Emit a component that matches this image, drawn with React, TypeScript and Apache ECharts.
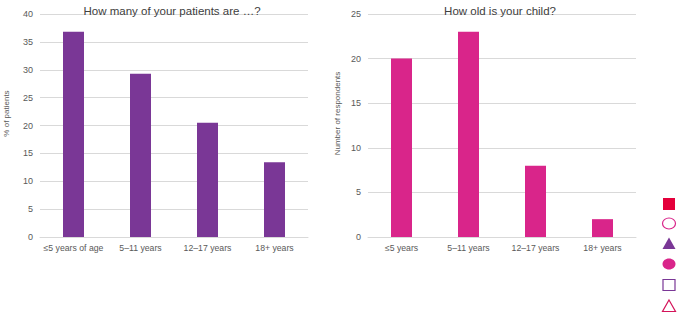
import React, { useEffect, useRef } from "react";
import * as echarts from "echarts";

const leftCategories = ["≤5 years of age", "5–11 years", "12–17 years", "18+ years"];
const leftValues = [36.8, 29.3, 20.5, 13.4];
const rightCategories = ["≤5 years", "5–11 years", "12–17 years", "18+ years"];
const rightValues = [20, 23, 8, 2];
const leftTitle = "How many of your patients are …?";
const rightTitle = "How old is your child?";
const leftAxisName = "% of patients";
const rightAxisName = "Number of respondents";

const FONT = "Liberation Sans, Arial, sans-serif";
const TXT = "#595959";
const GRID = "#d9d9d9";
const PURPLE = "#7a3796";
const PINK = "#d9258a";
const RED = "#e4003b";

export default function App() {
  const ref = useRef<HTMLDivElement>(null);
  useEffect(() => {
    if (!ref.current) return;
    const chart = echarts.init(ref.current, null, { renderer: "svg" });
    const yAxisCommon = {
      type: "value" as const,
      nameLocation: "middle" as const,
      nameRotate: 90,
      nameTextStyle: { color: TXT, fontSize: 8, fontFamily: FONT, padding: [0, 0, 0, 24] },
      axisLabel: { color: TXT, fontSize: 9, fontFamily: FONT, margin: 7 },
      axisLine: { show: false },
      axisTick: { show: false },
      splitLine: { lineStyle: { color: GRID, width: 1 } },
    };
    const xAxisCommon = {
      type: "category" as const,
      axisLabel: { color: TXT, fontSize: 8.7, fontFamily: FONT, margin: 6, interval: 0 },
      axisLine: { lineStyle: { color: GRID, width: 1 } },
      axisTick: { show: false },
    };
    const mx = 669;
    const legendItems: any[] = [
      { type: "rect", shape: { x: mx - 6, y: 198, width: 12, height: 12 }, style: { fill: RED } },
      { type: "ellipse", shape: { cx: mx, cy: 223.5, rx: 6.5, ry: 5.5 }, style: { fill: "#fff", stroke: PINK, lineWidth: 1.2 } },
      { type: "polygon", shape: { points: [[mx, 237.5], [mx + 6.5, 249], [mx - 6.5, 249]] }, style: { fill: PURPLE } },
      { type: "ellipse", shape: { cx: mx, cy: 264, rx: 6.5, ry: 5.5 }, style: { fill: PINK } },
      { type: "rect", shape: { x: mx - 6, y: 279.5, width: 12, height: 11 }, style: { fill: "#fff", stroke: PURPLE, lineWidth: 1.2 } },
      { type: "polygon", shape: { points: [[mx, 300], [mx + 6.5, 311.5], [mx - 6.5, 311.5]] }, style: { fill: "#fff", stroke: "#d4145a", lineWidth: 1.2 } },
    ];
    const titleStyle = { color: "#404040", fontSize: 11.5, fontWeight: "normal" as const, fontFamily: FONT };
    chart.setOption({
      animation: false,
      backgroundColor: "#ffffff",
      title: [
        { text: leftTitle, left: 167, top: 0, textAlign: "center", textStyle: titleStyle },
        { text: rightTitle, left: 495, top: 0, textAlign: "center", textStyle: titleStyle },
      ],
      grid: [
        { left: 40, right: 377, top: 14, bottom: 77 },
        { left: 368, right: 49, top: 14, bottom: 77 },
      ],
      xAxis: [
        { ...xAxisCommon, gridIndex: 0, data: leftCategories },
        { ...xAxisCommon, gridIndex: 1, data: rightCategories },
      ],
      yAxis: [
        { ...yAxisCommon, gridIndex: 0, min: 0, max: 40, interval: 5, name: leftAxisName, nameGap: 30 },
        { ...yAxisCommon, gridIndex: 1, min: 0, max: 25, interval: 5, name: rightAxisName, nameGap: 27 },
      ],
      series: [
        { type: "bar", xAxisIndex: 0, yAxisIndex: 0, data: leftValues, barWidth: 21, itemStyle: { color: PURPLE } },
        { type: "bar", xAxisIndex: 1, yAxisIndex: 1, data: rightValues, barWidth: 21, itemStyle: { color: PINK } },
      ],
      graphic: legendItems,
    });
    return () => chart.dispose();
  }, []);
  return <div ref={ref} style={{ position: "fixed", left: 0, top: 0, width: 685, height: 314 }} />;
}
